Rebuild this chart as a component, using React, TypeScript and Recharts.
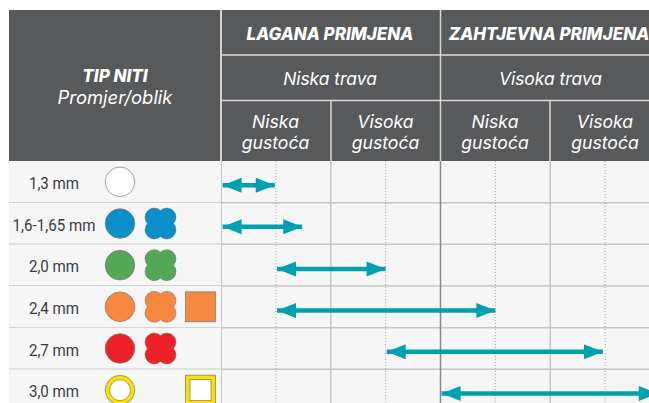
import React from "react";
import { ScatterChart, Scatter, XAxis, YAxis, ReferenceLine, CartesianGrid } from "recharts";

const rowLabels = ["1,3 mm", "1,6-1,65 mm", "2,0 mm", "2,4 mm", "2,7 mm", "3,0 mm"];
const rowColors = ["#ffffff", "#0a8fc9", "#54a757", "#f6883f", "#ee2028", "#ffffff"];
const rowShapes = [["circle"], ["circle", "clover"], ["circle", "clover"], ["circle", "clover", "square"], ["circle", "clover"], ["ring", "", "ringSquare"]];

const rowCenters = [0.5, 1.5, 2.5, 3.5, 4.5, 5.5];
const rowLines = [1, 2, 3, 4, 5, 6];
const solidCols = [1, 3];
const dottedCols = [0.5, 1.5, 2.5, 3.5];

// where each arrow sits: row height, from, to (in density columns)
const arrowRows = [0.58, 1.58, 2.59, 3.59, 4.58, 5.58];
const arrowFrom = [0.015, 0.015, 0.51, 0.51, 1.51, 2.01];
const arrowTo = [0.49, 0.74, 1.5, 2.5, 3.48, 3.98];

const arrows = arrowRows.map((y, i) => [
  { x: arrowFrom[i], y, dir: -1 },
  { x: arrowTo[i], y, dir: 1 },
]);

const TEAL = "#00a0ae";
const HEADER = "#58595b";
const BODY = "#f6f6f6";
const LINE = "#c6c6c8";
const EDGE = "#77787a";
const FONT = "Inter, sans-serif";

const ArrowHead = (props: any) => {
  const { cx, cy, payload } = props;
  const d = payload.dir;
  return <polygon points={`${cx},${cy} ${cx - d * 19},${cy - 7.5} ${cx - d * 19},${cy + 7.5}`} fill={TEAL} />;
};

const Clover = ({ x, y, fill }: { x: number; y: number; fill: string }) => {
  const spots = [[-6.3, -6.3], [6.3, -6.3], [-6.3, 6.3], [6.3, 6.3]];
  return (
    <g>
      {spots.map(([a, b], i) => (
        <circle key={i} cx={x + a} cy={y + b} r={9.1} fill={fill} stroke={EDGE} strokeWidth={0.7} />
      ))}
      {spots.map(([a, b], i) => (
        <circle key={"f" + i} cx={x + a} cy={y + b} r={8.8} fill={fill} />
      ))}
      <rect x={x - 8} y={y - 8} width={16} height={16} fill={fill} />
    </g>
  );
};

const Icon = ({ kind, x, y, fill }: { kind: string; x: number; y: number; fill: string }) => {
  if (kind === "circle") return <circle cx={x} cy={y} r={14.8} fill={fill} stroke={EDGE} strokeWidth={0.7} />;
  if (kind === "clover") return <Clover x={x} y={y} fill={fill} />;
  if (kind === "square") return <rect x={x - 15} y={y - 15} width={30} height={30} fill={fill} stroke={EDGE} strokeWidth={0.7} />;
  if (kind === "ring")
    return (
      <g>
        <circle cx={x} cy={y} r={14.8} fill="#fbdf00" stroke={EDGE} strokeWidth={0.7} />
        <circle cx={x} cy={y} r={10.4} fill="#fff" stroke={EDGE} strokeWidth={0.7} />
      </g>
    );
  if (kind === "ringSquare")
    return (
      <g>
        <rect x={x - 15} y={y - 15} width={30} height={30} fill="#fbdf00" stroke={EDGE} strokeWidth={0.7} />
        <rect x={x - 10.5} y={y - 10.5} width={21} height={21} fill="#fff" stroke={EDGE} strokeWidth={0.7} />
      </g>
    );
  return null;
};

const iconX = [120, 160.5, 200.5];

const RowTick = (props: any) => {
  const { y, index } = props;
  const top = y - 20.8;
  return (
    <g>
      <rect x={9} y={top} width={212} height={41.6} fill={BODY} />
      <line x1={9} x2={221} y1={top + 41.6} y2={top + 41.6} stroke={LINE} strokeWidth={1.5} />
      <text
        transform={`translate(54,${y + 7}) scale(0.9,1)`}
        textAnchor="middle"
        fontFamily="Roboto, sans-serif"
        fontSize={16.8}
        fill="#3c3c3e"
      >
        {rowLabels[index]}
      </text>
      {rowShapes[index].map((kind, i) => (
        <Icon key={i} kind={kind} x={iconX[i]} y={y} fill={rowColors[index]} />
      ))}
    </g>
  );
};

const HeadText = ({ x, y, size, weight, children }: any) => (
  <text x={x} y={y} textAnchor="middle" fontFamily={FONT} fontStyle="italic" fontWeight={weight} fontSize={size} fill="#fff">
    {children}
  </text>
);

const densityCols = [
  { x: 275.5, label: "Niska" },
  { x: 385.5, label: "Visoka" },
  { x: 495, label: "Niska" },
  { x: 605, label: "Visoka" },
];

const Header = () => (
  <g>
    <rect x={9} y={10} width={651} height={151} fill={HEADER} />
    <line x1={221} x2={221} y1={10} y2={161} stroke="#d2d2d3" strokeWidth={2} />
    <line x1={440.5} x2={440.5} y1={10} y2={161} stroke="#d8d8d9" strokeWidth={1.5} />
    <line x1={221} x2={660} y1={55} y2={55} stroke="#d8d8d9" strokeWidth={1.5} />
    <line x1={221} x2={660} y1={100.5} y2={100.5} stroke="#d8d8d9" strokeWidth={1.5} />
    <line x1={331} x2={331} y1={100.5} y2={161} stroke="#d8d8d9" strokeWidth={1.5} />
    <line x1={550} x2={550} y1={100.5} y2={161} stroke="#d8d8d9" strokeWidth={1.5} />
    <HeadText x={115} y={82} size={17} weight={800}>TIP NITI</HeadText>
    <HeadText x={115} y={103.5} size={18.4} weight={400}>Promjer/oblik</HeadText>
    <HeadText x={330} y={40} size={17} weight={800}>LAGANA PRIMJENA</HeadText>
    <HeadText x={549} y={40} size={17} weight={800}>ZAHTJEVNA PRIMJENA</HeadText>
    <HeadText x={330} y={85} size={17.4} weight={400}>Niska trava</HeadText>
    <HeadText x={550.5} y={85} size={17.4} weight={400}>Visoka trava</HeadText>
    {densityCols.map((c, i) => (
      <g key={i}>
        <HeadText x={c.x} y={128} size={17.6} weight={400}>{c.label}</HeadText>
        <HeadText x={c.x} y={148.5} size={17.6} weight={400}>gustoća</HeadText>
      </g>
    ))}
  </g>
);

export default function App() {
  return (
    <div style={{ position: "absolute", left: 0, top: 0, width: 649, height: 403, overflow: "hidden", background: "#fff" }}>
      <ScatterChart width={660} height={411} margin={{ top: 161, right: 0, bottom: 0, left: 9 }}>
        <CartesianGrid horizontal={false} vertical={false} fill={BODY} />
        <XAxis type="number" dataKey="x" domain={[0, 4]} hide />
        <YAxis
          type="number"
          dataKey="y"
          domain={[0, 6]}
          reversed
          width={212}
          ticks={rowCenters}
          interval={0}
          tickLine={false}
          axisLine={false}
          tick={RowTick}
        />
        {rowLines.map((v) => (
          <ReferenceLine key={"r" + v} y={v} stroke={LINE} strokeWidth={1.5} />
        ))}
        {dottedCols.map((v) => (
          <ReferenceLine key={"d" + v} x={v} stroke="#a8a8aa" strokeWidth={1} strokeDasharray="1 2" />
        ))}
        {solidCols.map((v) => (
          <ReferenceLine key={"s" + v} x={v} stroke={LINE} strokeWidth={1.5} />
        ))}
        <ReferenceLine x={0} stroke={LINE} strokeWidth={2} />
        <ReferenceLine x={2} stroke="#88888a" strokeWidth={1.5} />
        {arrows.map((a, i) => (
          <Scatter
            key={i}
            data={a}
            line={{ stroke: TEAL, strokeWidth: 4.5 }}
            shape={ArrowHead}
            isAnimationActive={false}
          />
        ))}
        <Header />
      </ScatterChart>
    </div>
  );
}
